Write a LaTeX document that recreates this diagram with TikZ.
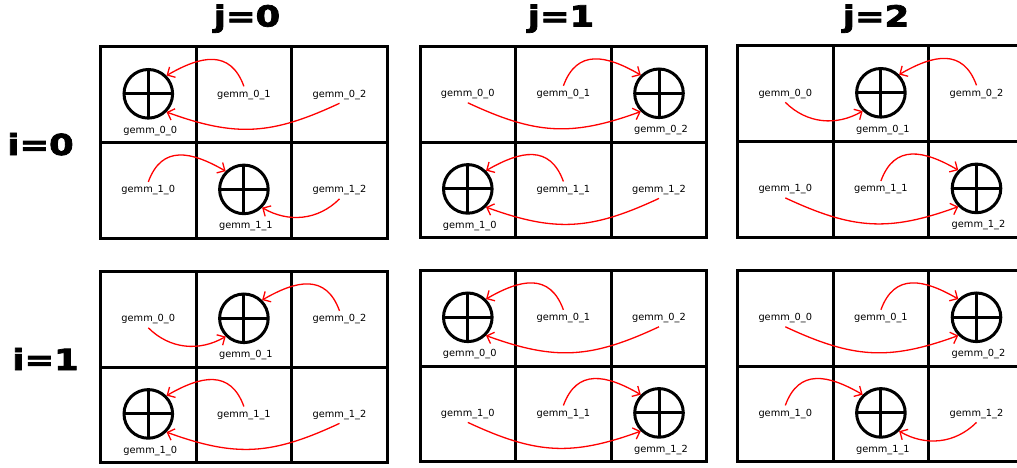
\documentclass[tikz,border=0pt]{standalone}
\usepackage{fontspec}
\setmainfont{DejaVu Sans}
\newfontfamily\titlefont[FakeBold=2.5]{DejaVu Sans Bold}
\usetikzlibrary{arrows.meta}
\tikzset{
  gridline/.style={line width=3pt, black},
  lab/.style={font=\fontsize{9.8}{10}\selectfont, inner sep=3.5pt},
  title/.style={font=\fontsize{29}{30}\selectfont\titlefont, anchor=base, inner sep=0pt},
  oplus/.style={circle, draw, line width=3pt, minimum size=48.6pt, inner sep=0pt,
    path picture={\draw[line width=3pt] (path picture bounding box.north) -- (path picture bounding box.south)
      (path picture bounding box.west) -- (path picture bounding box.east);}},
  arr/.style={red, line width=1.3pt, -{Straight Barb[length=6pt,width=12pt]}},
  upL/.style={arr, out=110, in=30, looseness=1.3},
  upR/.style={arr, out=70, in=150, looseness=1.3},
  dnLone/.style={arr, out=225, in=-30},
  dnRone/.style={arr, out=-45, in=210},
  dnLtwo/.style={arr, out=205, in=-20, looseness=1.1},
  dnRtwo/.style={arr, out=-25, in=200, looseness=1.1},
}
\newcommand\mygrid{%
  \draw[gridline] (0,0) rectangle (286.8,-191.2);
  \draw[gridline] (0,-95.6) -- (286.8,-95.6) (95.6,0) -- (95.6,-191.2) (191.2,0) -- (191.2,-191.2);}
\newcommand\plaincell[3]{%
  \node[lab] (#1-#2-#3) at ({47.8+95.6*#3},{-47.8-95.6*#2}) {gemm\_#2\_#3};}
\newcommand\sumcell[3]{%
  \node[oplus] (#1-#2-#3) at ({47.8+95.6*#3},{-46.8-95.6*#2}) {};
  \node[lab] (#1-#2-#3-t) at ({49.8+95.6*#3},{-83.8-95.6*#2}) {gemm\_#2\_#3};}
\begin{document}
\begin{tikzpicture}[x=1pt,y=1pt]
\path[use as bounding box] (0,0) rectangle (1017,467);
\clip (0,0) rectangle (1017,467);
% titles
\node[title] (tj0) at (247,440.5) {\scalebox{1.22}[1]{j=0}};
\node[title] (tj1) at (561,440.5) {\scalebox{1.22}[1]{j=1}};
\node[title] (tj2) at (876,440.5) {\scalebox{1.22}[1]{j=2}};
\node[title] (ti0) at (40.5,312) {\scalebox{1.22}[1]{i=0}};
\node[title] (ti1) at (45.5,97) {\scalebox{1.22}[1]{i=1}};
% grid A : i=0, j=0
\begin{scope}[shift={(100.5,420)}]
  \mygrid
  \sumcell{A}{0}{0} \plaincell{A}{0}{1} \plaincell{A}{0}{2}
  \plaincell{A}{1}{0} \sumcell{A}{1}{1} \plaincell{A}{1}{2}
  \draw[upL] (A-0-1.north) to (A-0-0.45);
  \draw[dnLtwo] (A-0-2.south) to (A-0-0.-45);
  \draw[upR] (A-1-0.north) to (A-1-1.135);
  \draw[dnLone] (A-1-2.south) to (A-1-1.-45);
\end{scope}
% grid B : i=0, j=1
\begin{scope}[shift={(420,420.5)}]
  \mygrid
  \plaincell{B}{0}{0} \plaincell{B}{0}{1} \sumcell{B}{0}{2}
  \sumcell{B}{1}{0} \plaincell{B}{1}{1} \plaincell{B}{1}{2}
  \draw[upR] (B-0-1.north) to (B-0-2.135);
  \draw[dnRtwo] (B-0-0.south) to (B-0-2.225);
  \draw[upL] (B-1-1.north) to (B-1-0.45);
  \draw[dnLtwo] (B-1-2.south) to (B-1-0.-45);
\end{scope}
% grid C : i=0, j=2
\begin{scope}[shift={(737.5,421)}]
  \mygrid
  \plaincell{C}{0}{0} \sumcell{C}{0}{1} \plaincell{C}{0}{2}
  \plaincell{C}{1}{0} \plaincell{C}{1}{1} \sumcell{C}{1}{2}
  \draw[upL] (C-0-2.north) to (C-0-1.45);
  \draw[dnRone] (C-0-0.south) to (C-0-1.225);
  \draw[upR] (C-1-1.north) to (C-1-2.135);
  \draw[dnRtwo] (C-1-0.south) to (C-1-2.225);
\end{scope}
% grid D : i=1, j=0
\begin{scope}[shift={(100.5,195.5)}]
  \mygrid
  \plaincell{D}{0}{0} \sumcell{D}{0}{1} \plaincell{D}{0}{2}
  \sumcell{D}{1}{0} \plaincell{D}{1}{1} \plaincell{D}{1}{2}
  \draw[upL] (D-0-2.north) to (D-0-1.45);
  \draw[dnRone] (D-0-0.south) to (D-0-1.225);
  \draw[upL] (D-1-1.north) to (D-1-0.45);
  \draw[dnLtwo] (D-1-2.south) to (D-1-0.-45);
\end{scope}
% grid E : i=1, j=1
\begin{scope}[shift={(420,196.5)}]
  \mygrid
  \sumcell{E}{0}{0} \plaincell{E}{0}{1} \plaincell{E}{0}{2}
  \plaincell{E}{1}{0} \plaincell{E}{1}{1} \sumcell{E}{1}{2}
  \draw[upL] (E-0-1.north) to (E-0-0.45);
  \draw[dnLtwo] (E-0-2.south) to (E-0-0.-45);
  \draw[upR] (E-1-1.north) to (E-1-2.135);
  \draw[dnRtwo] (E-1-0.south) to (E-1-2.225);
\end{scope}
% grid F : i=1, j=2
\begin{scope}[shift={(737.5,196.5)}]
  \mygrid
  \plaincell{F}{0}{0} \plaincell{F}{0}{1} \sumcell{F}{0}{2}
  \plaincell{F}{1}{0} \sumcell{F}{1}{1} \plaincell{F}{1}{2}
  \draw[upR] (F-0-1.north) to (F-0-2.135);
  \draw[dnRtwo] (F-0-0.south) to (F-0-2.225);
  \draw[upR] (F-1-0.north) to (F-1-1.135);
  \draw[dnLone] (F-1-2.south) to (F-1-1.-45);
\end{scope}
\end{tikzpicture}
\end{document}
